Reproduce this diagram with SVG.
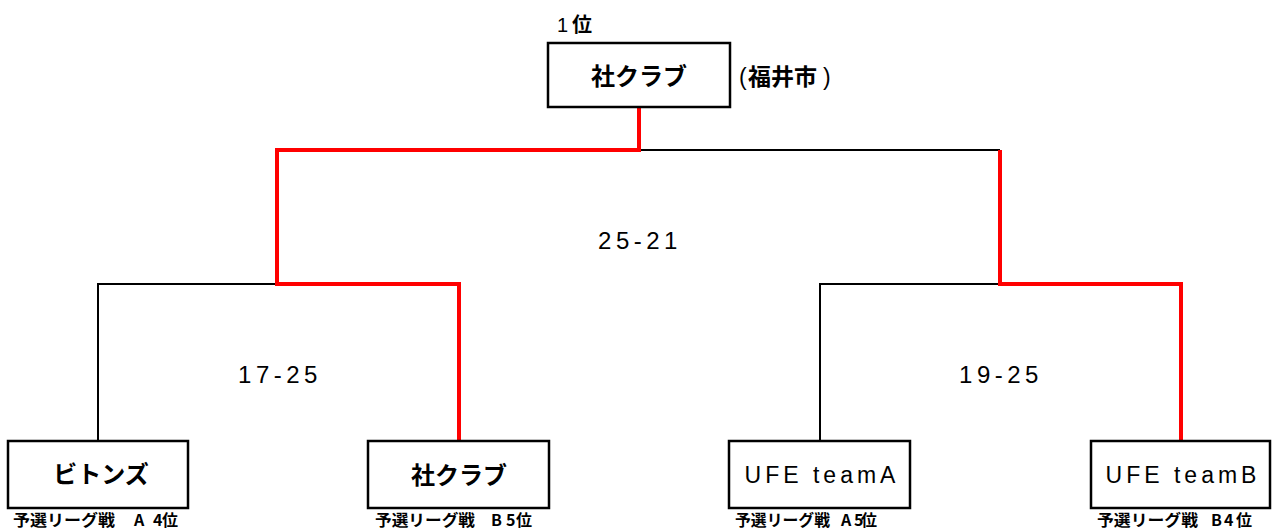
<svg xmlns="http://www.w3.org/2000/svg" width="1272" height="530" viewBox="0 0 1272 530">
<style>
.box{fill:#fff;stroke:#000;stroke-width:2.5}
.blk{fill:none;stroke:#000;stroke-width:2}
.red{fill:none;stroke:#ff0000;stroke-width:4}
.jp{font-family:"Liberation Sans","Noto Sans CJK JP",sans-serif;font-weight:bold;fill:#000}
.lat{font-family:"Liberation Sans",Arial,sans-serif;fill:#000}
.score{font-family:"Liberation Sans",Arial,sans-serif;font-size:24px;letter-spacing:4.5px;fill:#000;text-anchor:middle}
.lbl{font-family:"Noto Sans CJK JP",sans-serif;font-weight:bold;font-size:16px;fill:#000}
</style>
<rect width="1272" height="530" fill="#fff"/>
<g id="connectors">
<path class="blk" d="M639,150 H1000"/>
<path class="blk" d="M98,441 V284 H277"/>
<path class="blk" d="M820,441 V284 H1000"/>
<path class="red" d="M639,107 V150 H277 V284 H459 V441"/>
<path class="red" d="M1000,150 V284 H1181 V441"/>
</g>
<g id="champion">
<text class="jp" x="557" y="32" font-size="20"><tspan font-family="Liberation Sans" font-weight="normal">1</tspan><tspan x="572" font-family="Noto Sans CJK JP">位</tspan></text>
<rect class="box" x="548" y="43" width="182" height="64"/>
<text class="jp" x="639" y="85" font-size="24" text-anchor="middle" font-family="Noto Sans CJK JP">社クラブ</text>
<text class="jp" x="739" y="85" font-size="23"><tspan font-family="Liberation Sans" font-weight="normal">(</tspan><tspan x="748" font-family="Noto Sans CJK JP">福井市</tspan><tspan x="823" font-family="Liberation Sans" font-weight="normal">)</tspan></text>
</g>
<g id="scores">
<text class="score" x="640" y="249">25-21</text>
<text class="score" x="280" y="383">17-25</text>
<text class="score" x="1001" y="383">19-25</text>
</g>
<g id="team1">
<rect class="box" x="8" y="441" width="180" height="67"/>
<text class="jp" x="101" y="483" font-size="24" text-anchor="middle" font-family="Noto Sans CJK JP">ビトンズ</text>
<text class="lbl" y="526"><tspan x="13" textLength="102" lengthAdjust="spacingAndGlyphs">予選リーグ戦</tspan><tspan x="134">A</tspan><tspan x="153">4</tspan><tspan x="162">位</tspan></text>
</g>
<g id="team2">
<rect class="box" x="368" y="441" width="181" height="67"/>
<text class="jp" x="459" y="484" font-size="24" text-anchor="middle" font-family="Noto Sans CJK JP">社クラブ</text>
<text class="lbl" y="526"><tspan x="375" textLength="100" lengthAdjust="spacingAndGlyphs">予選リーグ戦</tspan><tspan x="491">B</tspan><tspan x="506">5</tspan><tspan x="516">位</tspan></text>
</g>
<g id="team3">
<rect class="box" x="729" y="441" width="181" height="67"/>
<text class="lat" x="822" y="483" font-size="23" letter-spacing="4" text-anchor="middle">UFE teamA</text>
<text class="lbl" y="526"><tspan x="735" textLength="95" lengthAdjust="spacingAndGlyphs">予選リーグ戦</tspan><tspan x="841">A</tspan><tspan x="854">5</tspan><tspan x="861">位</tspan></text>
</g>
<g id="team4">
<rect class="box" x="1091" y="441" width="179" height="67"/>
<text class="lat" x="1183" y="483" font-size="23" letter-spacing="4" text-anchor="middle">UFE teamB</text>
<text class="lbl" y="526"><tspan x="1097" textLength="101" lengthAdjust="spacingAndGlyphs">予選リーグ戦</tspan><tspan x="1211">B</tspan><tspan x="1224">4</tspan><tspan x="1236">位</tspan></text>
</g>
</svg>
